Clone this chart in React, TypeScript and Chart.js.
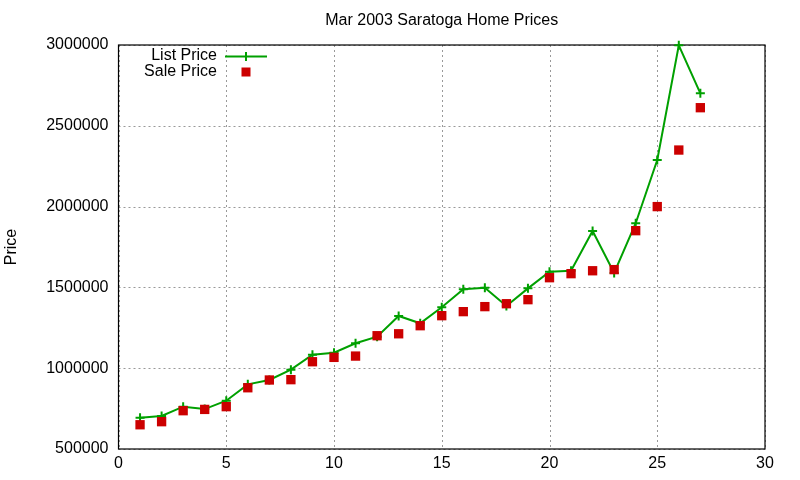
import React, { useEffect, useRef } from "react";
import { Chart, registerables } from "chart.js";

Chart.register(...registerables);

const TITLE = "Mar 2003 Saratoga Home Prices";
const Y_TITLE = "Price";
const LIST_LABEL = "List Price";
const SALE_LABEL = "Sale Price";

const homeIndex = [1, 2, 3, 4, 5, 6, 7, 8, 9, 10, 11, 12, 13, 14, 15, 16, 17, 18, 19, 20, 21, 22, 23, 24, 25, 26, 27];
const listPrice = [
  693000, 704000, 762000, 747000, 799000, 900000, 927000, 991000, 1083000, 1096000,
  1154000, 1195000, 1323000, 1278000, 1377000, 1488000, 1498000, 1385000, 1494000, 1597000,
  1603000, 1849000, 1589000, 1897000, 2288000, 2998000, 2701000,
];
const salePrice = [
  650000, 669000, 737000, 745000, 762000, 879000, 927000, 929000, 1040000, 1067000,
  1075000, 1201000, 1213000, 1263000, 1325000, 1350000, 1381000, 1399000, 1424000, 1560000,
  1585000, 1603000, 1610000, 1851000, 2000000, 2350000, 2612000,
];

const X_MIN = 0;
const X_MAX = 30;
const X_STEP = 5;
const Y_MIN = 500000;
const Y_MAX = 3000000;
const Y_STEP = 500000;

const GREEN = "#00a000";
const RED = "#cc0000";
const FONT = "'Liberation Sans', Arial, sans-serif";

const framePlugin = {
  id: "gnuFrame",
  beforeDatasetsDraw(chart: any) {
    const { ctx, chartArea, scales } = chart;
    const { left, right, top, bottom } = chartArea;
    ctx.save();
    ctx.strokeStyle = "#999999";
    ctx.lineWidth = 1;
    ctx.setLineDash([2, 3]);
    scales.x.ticks.forEach((t: any) => {
      const px = Math.round(scales.x.getPixelForValue(t.value)) + 0.5;
      ctx.beginPath();
      ctx.moveTo(px, top);
      ctx.lineTo(px, bottom);
      ctx.stroke();
    });
    scales.y.ticks.forEach((t: any) => {
      const py = Math.round(scales.y.getPixelForValue(t.value)) + 0.5;
      ctx.beginPath();
      ctx.moveTo(left, py);
      ctx.lineTo(right, py);
      ctx.stroke();
    });
    ctx.setLineDash([]);
    ctx.strokeStyle = "#000";
    ctx.lineWidth = 1.2;
    ctx.strokeRect(left, top, right - left, bottom - top);
    ctx.restore();
  },
  afterDraw(chart: any) {
    const { ctx, chartArea } = chart;
    ctx.save();
    ctx.fillStyle = "#000";
    ctx.font = `16px ${FONT}`;
    ctx.textBaseline = "middle";
    ctx.textAlign = "center";
    ctx.fillText(TITLE, (chartArea.left + chartArea.right) / 2, 21);

    // legend
    ctx.textAlign = "right";
    ctx.fillText(LIST_LABEL, 217, 56);
    ctx.fillText(SALE_LABEL, 217, 71.5);
    ctx.strokeStyle = GREEN;
    ctx.lineWidth = 2;
    ctx.beginPath();
    ctx.moveTo(225, 56.5);
    ctx.lineTo(267, 56.5);
    ctx.moveTo(246, 52);
    ctx.lineTo(246, 61);
    ctx.stroke();
    ctx.fillStyle = RED;
    ctx.fillRect(241.5, 67.5, 9, 9);
    ctx.restore();
  },
};

export default function App() {
  const canvasRef = useRef<HTMLCanvasElement | null>(null);

  useEffect(() => {
    const canvas = canvasRef.current;
    if (!canvas) return;
    const chart = new Chart(canvas, {
      type: "line",
      data: {
        datasets: [
          {
            label: SALE_LABEL,
            data: homeIndex.map((x, i) => ({ x, y: salePrice[i] })),
            showLine: false,
            pointStyle: "rect",
            pointRadius: 6.6,
            pointHoverRadius: 6.6,
            pointBackgroundColor: RED,
            pointBorderWidth: 0,
            borderColor: RED,
            backgroundColor: RED,
            order: 0,
            clip: false as any,
          },
          {
            label: LIST_LABEL,
            data: homeIndex.map((x, i) => ({ x, y: listPrice[i] })),
            borderColor: GREEN,
            borderWidth: 2,
            tension: 0,
            pointStyle: "cross",
            pointRadius: 4.5,
            pointHoverRadius: 4.5,
            pointBorderColor: GREEN,
            pointBorderWidth: 2,
            fill: false,
            order: 1,
            clip: false as any,
          },
        ],
      },
      options: {
        animation: false,
        responsive: false,
        events: [],
        layout: { padding: { top: 45, right: 35, bottom: 0, left: 0 } },
        plugins: {
          legend: { display: false },
          title: { display: false },
          tooltip: { enabled: false },
        },
        scales: {
          x: {
            type: "linear",
            min: X_MIN,
            max: X_MAX,
            grid: { display: false, drawTicks: false, tickLength: 0 },
            border: { display: false },
            ticks: {
              stepSize: X_STEP,
              color: "#000",
              padding: 5,
              maxRotation: 0,
              font: { family: FONT, size: 16 },
              callback: (v: any) => String(v),
            },
            afterFit: (scale: any) => {
              scale.height = 31;
            },
          },
          y: {
            type: "linear",
            min: Y_MIN,
            max: Y_MAX,
            grid: { display: false, drawTicks: false, tickLength: 0 },
            border: { display: false },
            title: {
              display: true,
              text: Y_TITLE,
              color: "#000",
              font: { family: FONT, size: 16 },
              padding: { top: 2, bottom: 0 },
            },
            ticks: {
              stepSize: Y_STEP,
              color: "#000",
              padding: 10,
              font: { family: FONT, size: 16 },
              callback: (v: any) => String(v),
            },
            afterFit: (scale: any) => {
              scale.width = 118.5;
            },
          },
        },
      },
      plugins: [framePlugin],
    });
    return () => chart.destroy();
  }, []);

  return (
    <div style={{ position: "absolute", left: 0, top: 0, width: 800, height: 480, background: "#fff" }}>
      <canvas ref={canvasRef} width={800} height={480} style={{ display: "block" }} />
    </div>
  );
}
